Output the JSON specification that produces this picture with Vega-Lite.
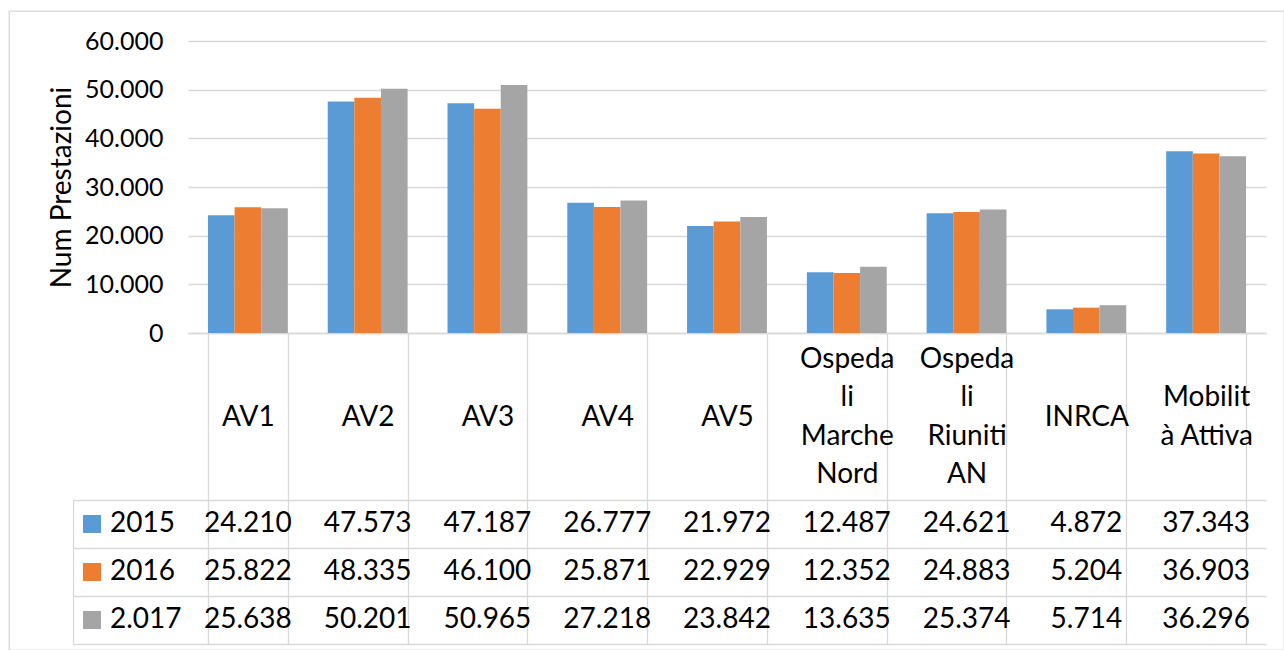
{
  "$schema": "https://vega.github.io/schema/vega-lite/v6.json",
  "autosize": {"type": "none"},
  "width": 1275,
  "height": 639,
  "padding": {"left": 9, "top": 11, "right": 0, "bottom": 0},
  "background": "white",
  "config": {
    "locale": {"number": {"decimal": ",", "thousands": ".", "grouping": [3], "currency": ["€", ""]}},
    "view": {"stroke": "#D9D9D9", "strokeWidth": 1.3},
    "font": "Lato"
  },
  "data": {"values": [
    {"cat": "AV1", "year": "2015", "value": 24210},
    {"cat": "AV2", "year": "2015", "value": 47573},
    {"cat": "AV3", "year": "2015", "value": 47187},
    {"cat": "AV4", "year": "2015", "value": 26777},
    {"cat": "AV5", "year": "2015", "value": 21972},
    {"cat": "Ospedali Marche Nord", "year": "2015", "value": 12487},
    {"cat": "Ospedali Riuniti AN", "year": "2015", "value": 24621},
    {"cat": "INRCA", "year": "2015", "value": 4872},
    {"cat": "Mobilità Attiva", "year": "2015", "value": 37343},
    {"cat": "AV1", "year": "2016", "value": 25822},
    {"cat": "AV2", "year": "2016", "value": 48335},
    {"cat": "AV3", "year": "2016", "value": 46100},
    {"cat": "AV4", "year": "2016", "value": 25871},
    {"cat": "AV5", "year": "2016", "value": 22929},
    {"cat": "Ospedali Marche Nord", "year": "2016", "value": 12352},
    {"cat": "Ospedali Riuniti AN", "year": "2016", "value": 24883},
    {"cat": "INRCA", "year": "2016", "value": 5204},
    {"cat": "Mobilità Attiva", "year": "2016", "value": 36903},
    {"cat": "AV1", "year": "2.017", "value": 25638},
    {"cat": "AV2", "year": "2.017", "value": 50201},
    {"cat": "AV3", "year": "2.017", "value": 50965},
    {"cat": "AV4", "year": "2.017", "value": 27218},
    {"cat": "AV5", "year": "2.017", "value": 23842},
    {"cat": "Ospedali Marche Nord", "year": "2.017", "value": 13635},
    {"cat": "Ospedali Riuniti AN", "year": "2.017", "value": 25374},
    {"cat": "INRCA", "year": "2.017", "value": 5714},
    {"cat": "Mobilità Attiva", "year": "2.017", "value": 36296}
  ]},
  "layer": [
    {
      "mark": {"type": "bar"},
      "encoding": {
        "x": {
          "field": "cat", "type": "nominal",
          "sort": ["AV1", "AV2", "AV3", "AV4", "AV5", "Ospedali Marche Nord", "Ospedali Riuniti AN", "INRCA", "Mobilità Attiva"],
          "scale": {"range": [179, 1257], "paddingInner": 0.3333, "paddingOuter": 0.16667},
          "axis": {
            "title": null, "offset": -317,
            "domainColor": "#D9D9D9", "domainWidth": 1.3,
            "tickBand": "extent", "tickSize": 311, "tickColor": "#D9D9D9", "tickWidth": 1.3,
            "labelFont": "Lato", "labelFontSize": 28, "labelColor": "black", "labelAngle": 0,
            "labelPadding": -284.75, "labelBaseline": "middle", "labelLineHeight": 19.25,
            "labelOverlap": false, "labelBound": false, "labelFlush": false, "labelLimit": 0,
            "labelExpr": "datum.label == 'Ospedali Marche Nord' ? ['Ospeda','\u200b','li','\u200b','Marche','\u200b','Nord'] : datum.label == 'Ospedali Riuniti AN' ? ['Ospeda','\u200b','li','\u200b','Riuniti','\u200b','AN'] : datum.label == 'Mobilità Attiva' ? ['\u200b','\u200b','Mobilit','\u200b','à Attiva'] : ['\u200b','\u200b','\u200b',datum.label]"
          }
        },
        "xOffset": {"field": "year", "type": "nominal", "sort": ["2015", "2016", "2.017"]},
        "y": {
          "field": "value", "type": "quantitative",
          "scale": {"domain": [0, 60000], "nice": false, "range": [322, 30]},
          "axis": {
            "offset": -179,
            "title": "Num Prestazioni", "titleFont": "Lato", "titleFontSize": 28, "titleFontWeight": "normal", "titleColor": "black", "titlePadding": 8,
            "values": [0, 10000, 20000, 30000, 40000, 50000, 60000], "format": ",d",
            "labelFont": "Lato", "labelFontSize": 25, "labelColor": "black", "labelPadding": 25,
            "domain": false, "ticks": false,
            "grid": true, "gridColor": "#D9D9D9", "gridWidth": 1.3
          }
        },
        "color": {
          "field": "year", "type": "nominal",
          "scale": {"domain": ["2015", "2016", "2.017"], "range": ["#5B9BD5", "#ED7D31", "#A5A5A5"]},
          "legend": {
            "orient": "none", "legendX": 69, "legendY": 499, "title": null,
            "symbolType": "square", "symbolSize": 324, "symbolStrokeWidth": 0, "symbolOpacity": 1,
            "labelFont": "Lato", "labelFontSize": 28, "labelColor": "black", "labelOffset": 4,
            "rowPadding": 20, "padding": 0
          }
        }
      }
    },
    {
      "mark": {"type": "text", "fontSize": 28, "font": "Lato", "color": "black", "baseline": "middle"},
      "encoding": {
        "x": {
          "field": "cat", "type": "nominal",
          "sort": ["AV1", "AV2", "AV3", "AV4", "AV5", "Ospedali Marche Nord", "Ospedali Riuniti AN", "INRCA", "Mobilità Attiva"]
        },
        "y": {
          "field": "year", "type": "nominal",
          "scale": {"domain": ["2015", "2016", "2.017"], "range": [489, 633], "paddingInner": 0, "paddingOuter": 0},
          "axis": {
            "orient": "left", "offset": -64, "title": null, "labels": false,
            "tickBand": "extent", "tickSize": -115, "tickColor": "#D9D9D9", "tickWidth": 1.3,
            "domainColor": "#D9D9D9", "domainWidth": 1.3,
            "grid": true, "gridColor": "#D9D9D9", "gridWidth": 1.3
          }
        },
        "text": {"field": "value", "type": "quantitative", "format": ",d"}
      }
    }
  ],
  "resolve": {"scale": {"y": "independent"}, "axis": {"y": "independent"}}
}
